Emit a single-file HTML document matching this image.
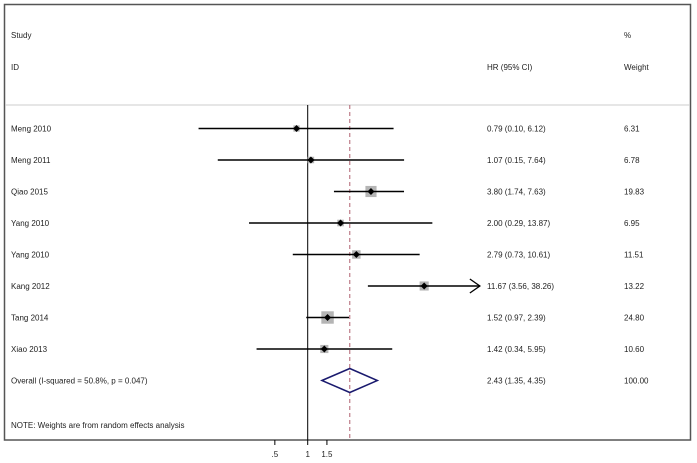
<!DOCTYPE html>
<html><head><meta charset="utf-8"><style>
html,body{margin:0;padding:0;background:#fff;}
svg{display:block;font-family:"Liberation Sans",sans-serif;}
text{font-size:8px;fill:#222;}
</style></head><body>
<svg id="chart" width="697" height="463">
<rect x="4.5" y="4.5" width="686" height="435.5" fill="#fff" stroke="#555" stroke-width="1.5"/>
<line x1="5" y1="105" x2="690" y2="105" stroke="#ccc" stroke-width="1"/>
<text x="11" y="38">Study</text>
<text x="11" y="70">ID</text>
<text x="487" y="70">HR (95% CI)</text>
<text x="624" y="38">%</text>
<text x="624" y="70">Weight</text>
<text x="11" y="428">NOTE: Weights are from random effects analysis</text>
<g id="marks"></g>
</svg>
<script>
const studies = ["Meng 2010","Meng 2011","Qiao 2015","Yang 2010","Yang 2010","Kang 2012","Tang 2014","Xiao 2013"];
const hr = [0.79,1.07,3.80,2.00,2.79,11.67,1.52,1.42];
const lower = [0.10,0.15,1.74,0.29,0.73,3.56,0.97,0.34];
const upper = [6.12,7.64,7.63,13.87,10.61,38.26,2.39,5.95];
const weights = [6.31,6.78,19.83,6.95,11.51,13.22,24.80,10.60];
const hrLabels = ["0.79 (0.10, 6.12)","1.07 (0.15, 7.64)","3.80 (1.74, 7.63)","2.00 (0.29, 13.87)","2.79 (0.73, 10.61)","11.67 (3.56, 38.26)","1.52 (0.97, 2.39)","1.42 (0.34, 5.95)"];
const weightLabels = ["6.31","6.78","19.83","6.95","11.51","13.22","24.80","10.60"];
const overall = [2.43,1.35,4.35];
const overallLabel = "Overall  (I-squared = 50.8%, p = 0.047)";
const overallHR = "2.43 (1.35, 4.35)";
const overallWeight = "100.00";
const ticks = [0.5,1,1.5];
const tickLabels = [".5","1","1.5"];
const xMax = 37.8;

const NS="http://www.w3.org/2000/svg";
const svg=document.getElementById('chart');
const g=document.getElementById('marks');
function x(v){return 307.7+47.4*Math.log(v);}
function y(i){return 128.5+31.5*i;}
function mk(tag,attrs,parent){const e=document.createElementNS(NS,tag);for(const k in attrs)e.setAttribute(k,attrs[k]);(parent||g).appendChild(e);return e;}
function txt(s,xx,yy){const t=mk('text',{x:xx,y:yy});t.textContent=s;return t;}

let e;
e=mk('line',{x1:x(1),y1:105,x2:x(1),y2:440,stroke:'#000','stroke-width':1});


e=mk('line',{x1:x(overall[0]),y1:105,x2:x(overall[0]),y2:440,stroke:'#b06070','stroke-width':1,'stroke-dasharray':'4,3'});



studies.forEach((s,i)=>{
  const yy=y(i);
  e=txt(s,11,yy+3);
  
  
  const sz=2.5*Math.sqrt(weights[i]);
  e=mk('rect',{x:x(hr[i])-sz/2,y:yy-sz/2,width:sz,height:sz,fill:'#b5b5b5'});
  
  
  const ux=Math.min(x(upper[i]),x(xMax));
  e=mk('line',{x1:x(lower[i]),y1:yy,x2:ux,y2:yy,stroke:'#000','stroke-width':1.5});
  
  
  if(upper[i]>xMax){
    e=mk('polyline',{points:`${ux-10},${yy-7} ${ux},${yy} ${ux-10},${yy+7}`,fill:'none',stroke:'#000','stroke-width':1.3});
    
    
  }
  e=mk('path',{d:`M${x(hr[i])-3.5},${yy} L${x(hr[i])},${yy-3.5} L${x(hr[i])+3.5},${yy} L${x(hr[i])},${yy+3.5}Z`,fill:'#000'});
  
  
  e=txt(hrLabels[i],487,yy+3);
  
  
  e=txt(weightLabels[i],624,yy+3);
  
  
});
const oy=y(studies.length);
e=txt(overallLabel,11,oy+3);


e=mk('path',{d:`M${x(overall[1])},${oy} L${x(overall[0])},${oy-12} L${x(overall[2])},${oy} L${x(overall[0])},${oy+12}Z`,fill:'none',stroke:'#1a1a6e','stroke-width':1.5});


e=txt(overallHR,487,oy+3);


e=txt(overallWeight,624,oy+3);



ticks.forEach((t,i)=>{
  e=mk('line',{x1:x(t),y1:440,x2:x(t),y2:445,stroke:'#000','stroke-width':1});
  
  
  e=mk('text',{x:x(t),y:457,'text-anchor':'middle'});
  e.textContent=tickLabels[i];
  
  
});
</script>
</body></html>
